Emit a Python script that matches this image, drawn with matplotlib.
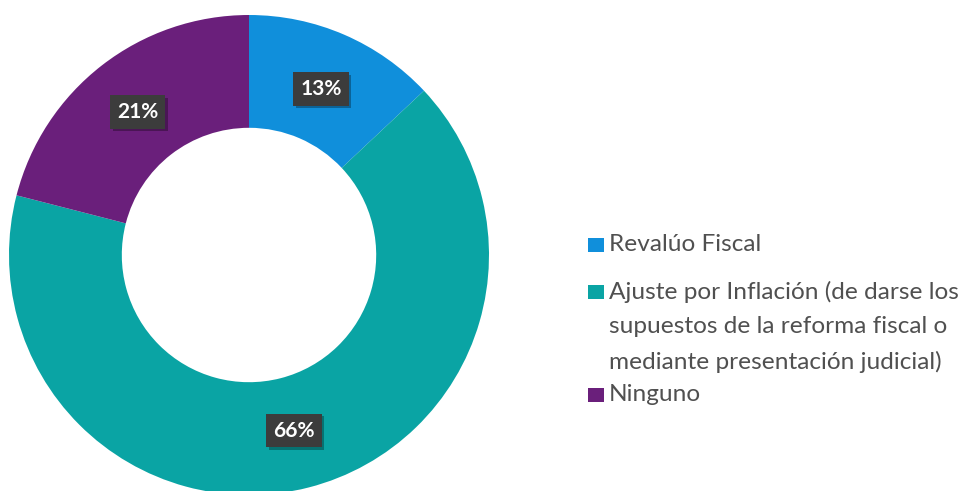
import matplotlib.pyplot as plt
import matplotlib.patheffects as pe
import numpy as np

labels = [
    "Revalúo Fiscal",
    "Ajuste por Inflación (de darse los\nsupuestos de la reforma fiscal o\nmediante presentación judicial)",
    "Ninguno",
]
values = [13, 66, 21]
colors = ["#108FDB", "#0AA4A4", "#6A1F7B"]
# legend rows (figure px from top)
legend_y = [245, 292, 395]


def main() -> None:
    plt.rcParams["font.family"] = ["Lato", "DejaVu Sans"]
    fig = plt.figure(figsize=(9.69, 4.91), dpi=100)
    ax = fig.add_axes([9 / 969, (491 - 495) / 491, 480 / 969, 480 / 491])

    ax.pie(
        values,
        colors=colors,
        startangle=90,
        counterclock=False,
        radius=1.0,
        wedgeprops=dict(width=0.47, edgecolor="white", linewidth=0),
    )
    ax.set_xlim(-1, 1)
    ax.set_ylim(-1, 1)
    ax.set_aspect("equal")

    total = sum(values)
    start = 90.0
    for v in values:
        mid = np.deg2rad(start - v / total * 360 / 2)
        start -= v / total * 360
        r = 0.755
        t = ax.text(
            r * np.cos(mid), r * np.sin(mid), f"{v}%",
            ha="center", va="center", color="white",
            fontsize=15, fontweight="bold",
            bbox=dict(boxstyle="square,pad=0.33", facecolor="#3C3C3C",
                      edgecolor="none"),
        )
        t.get_bbox_patch().set_path_effects([
            pe.SimplePatchShadow(offset=(2, -2), shadow_rgbFace="black",
                                 alpha=0.3),
            pe.Normal(),
        ])

    # legend drawn by hand (Excel-like uneven spacing)
    for lab, col, y in zip(labels, colors, legend_y):
        yf = 1 - y / 491
        fig.patches.append(plt.Rectangle(
            (588 / 969, yf - 7 / 491), 16 / 969, 14 / 491,
            transform=fig.transFigure, facecolor=col, edgecolor="none"))
        fig.text(609 / 969, yf + 11 / 491, lab, ha="left", va="top",
                 fontsize=17.6, color="#505050", linespacing=1.76)

    fig.savefig("out.png", dpi=100)


if __name__ == "__main__":
    main()
